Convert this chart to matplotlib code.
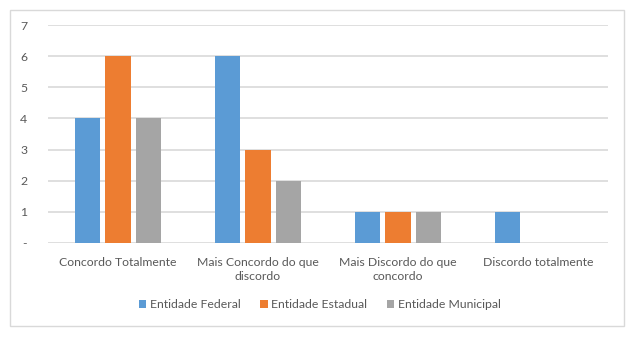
import matplotlib
matplotlib.use("Agg")
import matplotlib.pyplot as plt
import numpy as np
from matplotlib.patches import Rectangle

categories = ["Concordo Totalmente", "Mais Concordo do que\ndiscordo",
              "Mais Discordo do que\nconcordo", "Discordo totalmente"]
series_names = ["Entidade Federal", "Entidade Estadual", "Entidade Municipal"]
federal = [4, 6, 1, 1]
estadual = [6, 3, 1, 0]
municipal = [4, 2, 1, 0]
ytick_labels = ["-", "1", "2", "3", "4", "5", "6", "7"]
colors = ["#5B9BD5", "#ED7D31", "#A5A5A5"]

plt.rcParams['font.family'] = ['Lato', 'DejaVu Sans']
W, H = 636, 337
fig = plt.figure(figsize=(W/100, H/100), dpi=100)
ax = fig.add_axes([48/W, 1-243/H, (608-48)/W, (243-25)/H])

x = np.arange(len(categories))
bw = 0.18
step = 0.22
for i, (vals, name) in enumerate(zip([federal, estadual, municipal], series_names)):
    ax.bar(x + (i-1)*step, vals, width=bw, color=colors[i], label=name, zorder=3)

ax.set_xlim(-0.5, len(categories)-0.5)
ax.set_ylim(0, 7)
ax.set_yticks(range(8))
ax.set_yticklabels(ytick_labels)
ax.yaxis.grid(True, color="#D9D9D9", linewidth=1.2, zorder=0)
ax.set_xticks(x)
ax.set_xticklabels(categories, linespacing=1.35)
ax.tick_params(axis='both', length=0, labelsize=8.8, colors="#595959")
ax.tick_params(axis='y', pad=15)
ax.tick_params(axis='x', pad=10)
for s in ax.spines.values():
    s.set_visible(False)

leg = fig.legend(loc='center', bbox_to_anchor=(320/W, 1-305/H), ncol=3, frameon=False,
                 fontsize=8.8, handlelength=0.6, handleheight=0.6, handletextpad=0.3,
                 columnspacing=1.6, labelcolor="#595959")

fig.patches.append(Rectangle((10/W, 1-326/H), (624-10)/W, (326-10)/H, transform=fig.transFigure,
                             fill=False, edgecolor="#D9D9D9", linewidth=1))
fig.savefig("out.png", dpi=100, facecolor="white")
